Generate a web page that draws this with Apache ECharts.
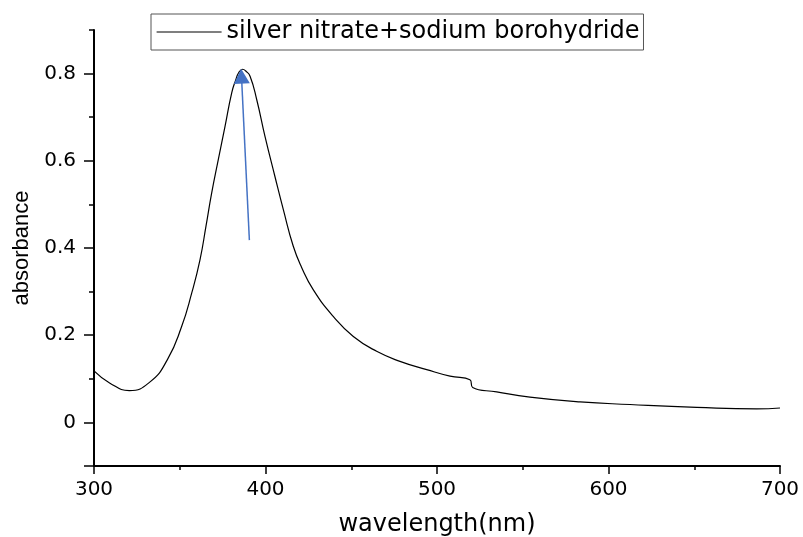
<!DOCTYPE html>
<html>
<head>
<meta charset="utf-8">
<script src="https://cdn.jsdelivr.net/npm/echarts@6/dist/echarts.min.js"></script>
<style>html,body{margin:0;padding:0;background:#fff;}#c{width:803px;height:537px;}</style>
</head>
<body>
<div id="c"></div>
<script>
var seriesName = 'silver nitrate+sodium borohydride';
var wavelength = [300, 309.3, 320.6, 332.7, 342.8, 351.1, 357.0, 361.8, 365.3, 368.6, 372.5, 376.4, 380.3, 382.6, 384.5, 386.7, 388.5, 391, 394.9, 399.7, 405.5, 410.4, 416.2, 421, 427.9, 439.5, 451.2, 464.8, 478.4, 494.0, 507.6, 519.2, 520.8, 534.8, 554.2, 583.4, 612.5, 651.4, 686.4, 700];
var absorbance = [0.118, 0.090, 0.073, 0.093, 0.144, 0.220, 0.297, 0.373, 0.450, 0.526, 0.603, 0.679, 0.756, 0.785, 0.803, 0.810, 0.806, 0.794, 0.740, 0.656, 0.564, 0.488, 0.404, 0.356, 0.304, 0.243, 0.197, 0.163, 0.140, 0.121, 0.106, 0.098, 0.080, 0.070, 0.058, 0.047, 0.041, 0.0345, 0.031, 0.033];
var yLabelValues = [0, 0.2, 0.4, 0.6, 0.8];
var yMajorTicks = [-0.1, 0, 0.2, 0.4, 0.6, 0.8];
var yMinorTicks = [0.1, 0.3, 0.5, 0.7, 0.9];
var arrowStart = [390.6, 0.418];
var arrowEnd = [386.0, 0.794];

var points = wavelength.map(function (w, i) { return [w, absorbance[i]]; });

var chart = echarts.init(document.getElementById('c'), null, {renderer: 'canvas'});
var axisColor = '#000';
chart.setOption({
  animation: false,
  backgroundColor: '#fff',
  grid: {left: 94, right: 23, top: 30, bottom: 71, containLabel: false, outerBoundsMode: 'none'},
  legend: {
    show: true,
    left: 151, top: 14,
    padding: [6, 4, 6, 5],
    borderColor: '#555', borderWidth: 1,
    itemWidth: 65, itemHeight: 14,
    itemGap: 0,
    itemStyle: {opacity: 0},
    lineStyle: {color: '#000', width: 1.2},
    textStyle: {fontFamily: 'DejaVu Sans', fontSize: 24, color: '#000', lineHeight: 24},
    data: [seriesName]
  },
  xAxis: {
    type: 'value',
    min: 300, max: 700, interval: 100,
    name: 'wavelength(nm)',
    nameLocation: 'middle',
    nameGap: 47,
    nameTextStyle: {fontFamily: 'DejaVu Sans', fontSize: 24, color: '#000'},
    axisLine: {show: true, onZero: false, lineStyle: {color: axisColor, width: 2}},
    axisTick: {show: true, inside: false, length: 8, lineStyle: {color: axisColor, width: 1.5}},
    minorTick: {show: true, splitNumber: 2, length: 4, lineStyle: {color: axisColor, width: 1.5}},
    axisLabel: {margin: 14, fontFamily: 'DejaVu Sans', fontSize: 20, color: '#000'},
    splitLine: {show: false}
  },
  yAxis: [{
    type: 'value',
    min: -0.1, max: 0.9,
    name: 'absorbance',
    nameLocation: 'middle',
    nameRotate: 90,
    nameGap: 58,
    nameTextStyle: {fontFamily: 'Liberation Sans', fontSize: 22, color: '#000'},
    axisLine: {show: true, onZero: false, lineStyle: {color: axisColor, width: 2}},
    axisTick: {show: true, inside: false, length: 10, customValues: yMajorTicks, lineStyle: {color: axisColor, width: 1.5}},
    axisLabel: {margin: 18, fontFamily: 'DejaVu Sans', fontSize: 20, color: '#000', customValues: yLabelValues,
      formatter: function (v) { return v === 0 ? '0' : String(Math.round(v * 10) / 10); }},
    splitLine: {show: false}
  }, {
    type: 'value',
    position: 'left',
    min: -0.1, max: 0.9,
    axisLine: {show: false},
    axisTick: {show: true, inside: false, length: 5, customValues: yMinorTicks, lineStyle: {color: axisColor, width: 1.5}},
    axisLabel: {show: false},
    splitLine: {show: false}
  }],
  series: [{
    name: seriesName,
    type: 'line',
    data: points,
    symbol: 'none',
    smooth: 0.5,
    lineStyle: {color: '#000', width: 1.2},
    itemStyle: {color: '#000'},
    silent: true,
    markLine: {
      silent: true,
      animation: false,
      label: {show: false},
      symbol: ['none', 'triangle'],
      symbolSize: [16, 15],
      lineStyle: {color: '#4472C4', width: 1.5, type: 'solid'},
      emphasis: {disabled: true},
      data: [[{coord: arrowStart}, {coord: arrowEnd}]]
    }
  }]
});
</script>
</body>
</html>
